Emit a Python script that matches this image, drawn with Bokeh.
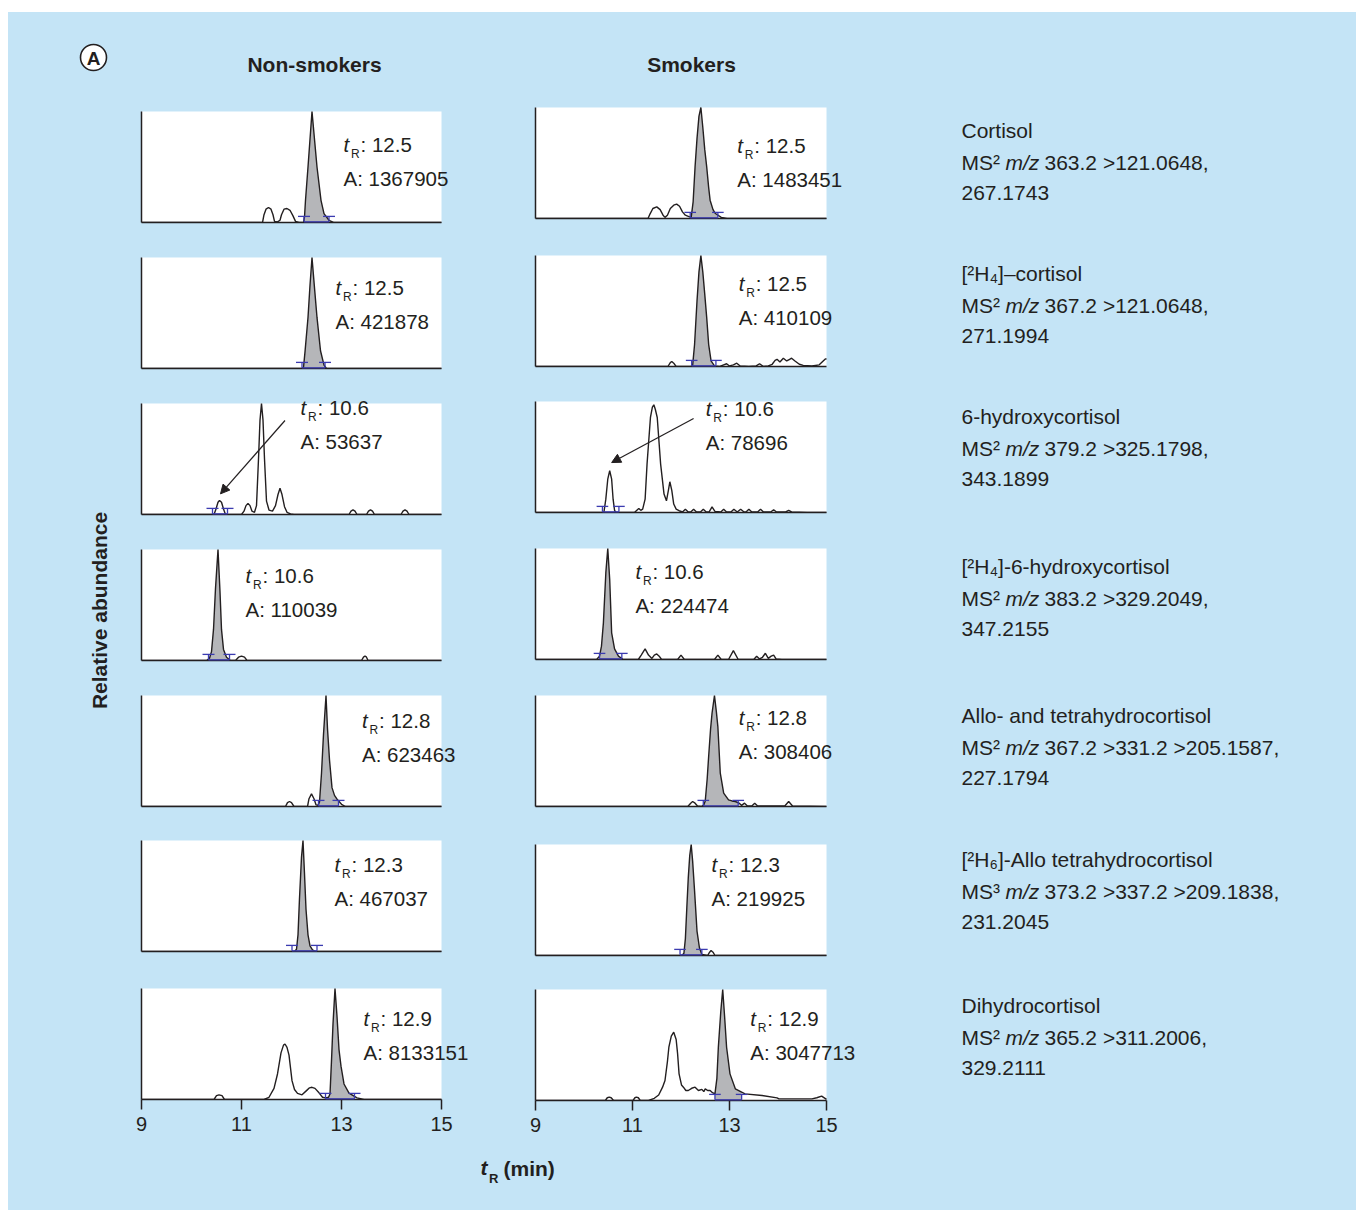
import math
import numpy as np
from bokeh.plotting import figure
from bokeh.models import Range1d, Label, Arrow, NormalHead, FixedTicker, Spacer, BoxAnnotation
from bokeh.layouts import row, column
from bokeh.embed import file_html
from bokeh.resources import INLINE
from bokeh.core.properties import value

# ---------------------------------------------------------------- data
# chromatogram traces: (retention time [min], relative abundance [%])
NS_CORTISOL = [(9.0,0),(11.42,0),(11.45,7),(11.49,12),(11.54,13.5),(11.59,12),(11.63,7),(11.66,1),(11.72,0.5),(11.77,2),(11.80,7),(11.85,12),(11.91,12.6),(11.97,11),(12.03,6),(12.08,1),(12.15,0),(12.24,0),(12.26,5),(12.28,20),(12.33,50),(12.37,75),(12.41,100),(12.45,80),(12.51,50),(12.59,20),(12.65,8),(12.75,2),(12.84,0),(15.0,0)]
NS_D4_CORTISOL = [(9.0,0),(12.20,0),(12.24,1),(12.27,15),(12.33,46),(12.37,75),(12.41,100),(12.45,78),(12.51,46),(12.58,16),(12.65,3),(12.70,0),(15.0,0)]
NS_6OH = [(9.0,0),(10.45,0),(10.49,5),(10.53,11),(10.56,12.6),(10.60,11),(10.64,5),(10.68,0),(11.00,0),(11.05,3),(11.09,8),(11.13,10),(11.17,8),(11.21,3),(11.26,2),(11.30,8),(11.34,50),(11.37,85),(11.40,100),(11.43,85),(11.46,50),(11.50,12),(11.55,4),(11.62,3),(11.68,8),(11.73,18),(11.77,23.7),(11.81,18),(11.86,7),(11.91,2),(11.98,0.5),(12.05,0),(13.15,0),(13.19,3),(13.23,4.2),(13.27,3),(13.31,0),(13.50,0),(13.54,3),(13.58,4.2),(13.62,3),(13.66,0),(14.19,0),(14.23,3),(14.27,4.2),(14.31,3),(14.35,0),(15.0,0)]
NS_D4_6OH = [(9.0,0),(10.30,0),(10.36,2),(10.40,8),(10.44,28),(10.48,65),(10.53,100),(10.57,62),(10.60,28),(10.64,10),(10.70,3),(10.78,0),(10.88,0),(10.94,3),(11.00,4),(11.06,3),(11.11,0),(13.40,0),(13.44,3),(13.47,4),(13.50,3),(13.53,0),(15.0,0)]
NS_THF = [(9.0,0),(11.88,0),(11.92,3.5),(11.96,4.5),(12.00,3.5),(12.05,0),(12.32,0),(12.35,7),(12.40,11.4),(12.45,7),(12.49,1.5),(12.53,1),(12.56,4),(12.60,30),(12.64,65),(12.69,100),(12.72,70),(12.76,42),(12.81,17),(12.86,10),(12.92,6),(13.00,2),(13.08,0),(15.0,0)]
NS_D6_THF = [(9.0,0),(12.06,0),(12.10,2),(12.13,15),(12.16,48),(12.20,85),(12.23,100),(12.26,70),(12.29,38),(12.33,15),(12.37,5),(12.42,1.5),(12.48,0),(15.0,0)]
NS_DHF = [(9.0,0),(10.45,0),(10.50,3.5),(10.55,4.2),(10.61,3.5),(10.66,0),(11.45,0),(11.55,2),(11.65,10),(11.72,23),(11.79,42),(11.84,49),(11.87,50),(11.91,47),(11.95,40),(12.01,17),(12.06,9),(12.12,5.5),(12.21,4.2),(12.30,8),(12.36,10.5),(12.41,11),(12.47,10),(12.55,6),(12.62,2),(12.68,1.5),(12.74,2),(12.77,5),(12.80,35),(12.83,68),(12.87,100),(12.91,75),(12.95,45),(12.99,30),(13.05,14),(13.15,5.7),(13.31,1.5),(13.45,0),(15.0,0)]

S_CORTISOL = [(9.0,0),(11.32,0),(11.36,4),(11.42,9),(11.50,10.5),(11.57,8),(11.63,3),(11.67,1),(11.72,3),(11.78,9),(11.85,12),(11.91,13),(11.97,11),(12.03,6),(12.09,3),(12.15,2),(12.21,1),(12.25,15),(12.29,46.5),(12.33,72),(12.37,92),(12.41,100),(12.45,82),(12.49,62),(12.53,46.5),(12.57,28),(12.60,16.5),(12.66,8),(12.71,4.5),(12.83,1),(12.95,0),(15.0,0)]
S_D4_CORTISOL = [(9.0,0),(11.73,0),(11.78,3.5),(11.81,4.5),(11.85,3),(11.90,0),(12.20,0),(12.24,1),(12.28,20),(12.33,59),(12.37,85),(12.41,100),(12.45,85),(12.49,65),(12.53,44),(12.57,20),(12.62,5),(12.69,0.5),(12.80,0),(12.88,1.5),(12.94,2.5),(13.00,0.5),(13.08,1.5),(13.15,3),(13.22,0.5),(13.40,0),(13.55,0.5),(13.62,2.5),(13.70,0),(13.80,0.5),(13.88,2),(13.94,5.5),(13.98,6.5),(14.04,4),(14.11,7.5),(14.18,5),(14.24,6.5),(14.28,7.5),(14.35,5),(14.44,2),(14.52,1),(14.70,0.5),(14.85,1.5),(14.97,6.6),(15.0,7)]
S_6OH = [(9.0,0),(10.41,0),(10.45,12),(10.49,30),(10.53,37.6),(10.57,30),(10.60,12),(10.63,2),(10.66,0),(11.04,0),(11.09,2),(11.13,3.6),(11.17,2),(11.21,3),(11.26,12),(11.30,43.6),(11.37,85.6),(11.41,95),(11.44,97),(11.47,93),(11.51,85.6),(11.58,43.6),(11.65,16.6),(11.70,10.5),(11.74,20),(11.77,27.7),(11.81,20),(11.85,7.6),(11.90,3),(11.96,1.6),(12.03,0.5),(12.09,3),(12.15,0.5),(12.20,0.5),(12.26,3),(12.32,0.5),(12.40,0.5),(12.46,3),(12.52,0.5),(12.58,0.5),(12.64,5),(12.70,1),(12.82,0.5),(12.88,3),(12.94,0.5),(13.03,0.5),(13.09,3),(13.16,0.5),(13.23,3),(13.30,0.5),(13.34,0.5),(13.40,3),(13.46,0.5),(13.58,0.5),(13.64,3),(13.70,0.5),(13.85,0.5),(13.91,2.5),(13.97,0.5),(14.16,0.5),(14.22,2),(14.28,0.5),(14.6,0),(15.0,0)]
S_D4_6OH = [(9.0,0),(10.26,0),(10.32,3),(10.36,12),(10.40,33),(10.45,78),(10.49,100),(10.53,72),(10.57,24),(10.63,9.5),(10.71,3),(10.81,0),(11.12,0),(11.18,4),(11.26,9.6),(11.33,4),(11.40,1),(11.45,4),(11.50,5),(11.55,3),(11.60,0),(11.93,0),(12.00,4),(12.07,0),(12.69,0),(12.76,4),(12.83,0),(12.98,0),(13.08,8),(13.18,0),(13.50,0),(13.56,3),(13.62,0.5),(13.68,2),(13.74,5.6),(13.80,1),(13.86,3),(13.91,4),(13.96,0.5),(14.08,0),(15.0,0)]
S_THF = [(9.0,0),(12.14,0),(12.20,3),(12.24,4.5),(12.29,3),(12.34,0.5),(12.42,0),(12.47,1.5),(12.50,5),(12.54,25),(12.57,45),(12.61,70),(12.64,84),(12.69,100),(12.73,85),(12.76,72),(12.81,30),(12.88,12),(12.98,6),(13.05,5),(13.12,4.5),(13.20,3),(13.25,1),(13.31,3),(13.37,0.5),(13.46,0.5),(13.52,3),(13.58,0.5),(14.14,0.5),(14.22,4.5),(14.30,0.5),(15.0,0)]
S_D6_THF = [(9.0,0),(12.02,0),(12.06,2),(12.09,15),(12.12,43),(12.15,70),(12.18,90),(12.21,100),(12.24,85),(12.28,58),(12.33,22),(12.38,7),(12.43,1),(12.55,0),(12.59,3),(12.62,4.5),(12.66,3),(12.70,0),(15.0,0)]
S_DHF = [(9.0,0),(10.44,0),(10.48,2.5),(10.52,3),(10.56,2.5),(10.61,0),(11.01,0),(11.05,2.5),(11.08,3),(11.12,2.5),(11.16,0),(11.33,0),(11.45,2),(11.54,5),(11.62,12),(11.67,18),(11.72,35),(11.75,48),(11.80,58),(11.85,61.5),(11.90,55),(11.93,42),(11.96,24),(12.01,14),(12.05,12),(12.10,9),(12.15,9),(12.22,11),(12.29,12),(12.36,9),(12.43,10),(12.47,8),(12.50,10.5),(12.55,9),(12.60,9),(12.65,7),(12.70,6),(12.74,20),(12.77,48),(12.82,80),(12.86,100),(12.90,75),(12.94,48),(13.01,24),(13.12,10.5),(13.32,6),(13.67,4.5),(13.98,2.4),(14.02,1.5),(14.49,1.5),(14.70,1.5),(14.80,2.5),(14.90,4),(15.0,1)]

NS_TRACES = [NS_CORTISOL, NS_D4_CORTISOL, NS_6OH, NS_D4_6OH, NS_THF, NS_D6_THF, NS_DHF]
S_TRACES = [S_CORTISOL, S_D4_CORTISOL, S_6OH, S_D4_6OH, S_THF, S_D6_THF, S_DHF]

# retention times and peak areas
TR_NS = ["12.5", "12.5", "10.6", "10.6", "12.8", "12.3", "12.9"]
AREA_NS = [1367905, 421878, 53637, 110039, 623463, 467037, 8133151]
TR_S = ["12.5", "12.5", "10.6", "10.6", "12.8", "12.3", "12.9"]
AREA_S = [1483451, 410109, 78696, 224474, 308406, 219925, 3047713]

# integration limits (min)
INT_NS = [(12.25, 12.75), (12.21, 12.67), (10.42, 10.72), (10.34, 10.76), (12.54, 12.94), (12.01, 12.51), (12.68, 13.26)]
INT_S = [(12.19, 12.76), (12.22, 12.72), (10.38, 10.72), (10.32, 10.78), (12.46, 13.18), (11.98, 12.43), (12.70, 13.25)]
FILLED = [True, True, False, True, True, True, True]

X_TICKS = [9, 11, 13, 15]
X_MIN, X_MAX = 9, 15
Y_MAX = 100

COMPOUNDS = ["Cortisol", "[²H₄]–cortisol", "6-hydroxycortisol", "[²H₄]-6-hydroxycortisol",
             "Allo- and tetrahydrocortisol", "[²H₆]-Allo tetrahydrocortisol", "Dihydrocortisol"]
MS_ORDER = ["MS²", "MS²", "MS²", "MS²", "MS²", "MS³", "MS²"]
MS_TRANSITIONS = ["363.2 >121.0648,", "367.2 >121.0648,", "379.2 >325.1798,", "383.2 >329.2049,",
                  "367.2 >331.2 >205.1587,", "373.2 >337.2 >209.1838,", "365.2 >311.2006,"]
MS_LAST = ["267.1743", "271.1994", "343.1899", "347.2155", "227.1794", "231.2045", "329.2111"]

# ---------------------------------------------------------------- style / layout
BG = "#c4e4f6"
INK = "#231f20"
GRAY = "#b5b6b9"
BLUE = "#3b3bb0"
FONT = "Liberation Sans"
FRAME_H = 111

LEFT_TB = [(11, 18), (17, 18), (17, 18), (17, 18), (17, 18), (16, 19), (18, 41)]
RIGHT_TB = [(7, 22), (15, 20), (15, 20), (16, 19), (17, 18), (20, 15), (19, 40)]
LAB_NS = [(13.04, 70.3), (12.88, 73.2), (12.18, 96.4), (11.08, 76.6), (13.41, 77.5), (12.86, 78.4), (13.44, 73.0)]
LAB_S = [(13.16, 65.8), (13.19, 74.8), (12.51, 93.7), (11.06, 79.3), (13.19, 80.2), (12.63, 82.0), (13.43, 73.9)]
ARROW_NS = (11.87, 84.7, 10.58, 18.6)
ARROW_S = (12.26, 84.7, 10.57, 45.0)


def style_axis(ax, ticks, labels, bounds):
    ax.bounds = bounds
    ax.axis_line_color = INK
    ax.axis_line_width = 1.5
    ax.minor_tick_line_color = None
    ax.ticker = FixedTicker(ticks=ticks, minor_ticks=[])
    if labels:
        ax.major_tick_out = 10
        ax.major_tick_in = 0
        ax.major_tick_line_color = INK
        ax.major_tick_line_width = 1.5
        ax.major_label_text_font = FONT
        ax.major_label_text_font_size = "20px"
        ax.major_label_text_color = INK
        ax.major_label_standoff = 7
    else:
        ax.major_tick_out = 0
        ax.major_tick_in = 0
        ax.major_tick_line_color = None
        ax.major_label_text_font_size = "0px"
        ax.major_label_standoff = 0


def make_panel(points, lims, tr, area, filled, lab, fw, bl, br, bt, bb, bottom, arrow=None):
    t = np.array([q[0] for q in points], dtype=float)
    a = np.array([q[1] for q in points], dtype=float)
    # the frame also covers the right and top margins so the labels are not clipped;
    # the white plotting box itself is X_MIN..X_MAX x 0..Y_MAX
    x_end = X_MIN + (X_MAX - X_MIN) * (fw + br) / fw
    y_end = Y_MAX * (FRAME_H + bt) / FRAME_H
    p = figure(title=None, frame_width=fw + br, frame_height=FRAME_H + bt,
               min_border_left=bl, min_border_right=0, min_border_top=0, min_border_bottom=bb,
               x_range=Range1d(X_MIN, x_end), y_range=Range1d(0, y_end),
               output_backend="svg", toolbar_location=None,
               background_fill_color=BG, border_fill_color=BG, outline_line_color=None)
    p.grid.visible = False
    p.add_layout(BoxAnnotation(left=X_MIN, right=X_MAX, bottom=0, top=Y_MAX, fill_color="white",
                               fill_alpha=1, line_color=None, level="underlay"))
    style_axis(p.yaxis[0], [], False, (0, Y_MAX))
    style_axis(p.xaxis[0], X_TICKS if bottom else [], bottom, (X_MIN, X_MAX))

    lo, hi = lims
    if filled:
        inside = (t > lo) & (t < hi)
        ft = np.concatenate([[lo], t[inside], [hi]])
        fa = np.concatenate([[np.interp(lo, t, a)], a[inside], [np.interp(hi, t, a)]])
        p.varea(x=ft, y1=0, y2=fa, fill_color=GRAY)
    p.line(t, a, line_color=INK, line_width=1.4)

    hw, th = 0.12, 5.5
    p.segment(x0=[lo, lo - hw, hi - hw, lo, hi], y0=[0.6, th, th, 0.6, 0.6],
              x1=[hi, lo + hw, hi + hw, lo, hi], y1=[0.6, th, th, th, th],
              line_color=BLUE, line_width=1.3, level="overlay")

    lx, ly = lab
    common = dict(text_font=FONT, text_color=INK, text_baseline="middle", text_align="left")
    p.add_layout(Label(x=lx, y=ly, text="t", text_font_size="20.5px", text_font_style="italic", **common))
    p.add_layout(Label(x=lx, y=ly - 9, x_offset=7.5, text="R", text_font_size="12px", **common))
    p.add_layout(Label(x=lx, y=ly, x_offset=17, text=": " + tr, text_font_size="20.5px", **common))
    p.add_layout(Label(x=lx, y=ly - 30.6, text="A: " + str(area), text_font_size="20.5px", **common))

    if arrow is not None:
        xs, ys, xe, ye = arrow
        p.add_layout(Arrow(end=NormalHead(size=9, fill_color=INK, line_color=INK, line_width=1),
                           x_start=xs, y_start=ys, x_end=xe, y_end=ye,
                           line_color=INK, line_width=1.2))
    return p


def text_fig(w, h, flip=True):
    f = figure(title=None, frame_width=w, frame_height=h, min_border=0,
               x_range=Range1d(0, w), y_range=Range1d(h, 0) if flip else Range1d(0, h),
               output_backend="svg", toolbar_location=None,
               background_fill_color=BG, border_fill_color=BG, outline_line_color=None)
    f.axis.visible = False
    f.grid.visible = False
    return f


left_figs, right_figs = [], []
for i in range(7):
    bt, bb = LEFT_TB[i]
    left_figs.append(make_panel(NS_TRACES[i], INT_NS[i], TR_NS[i], AREA_NS[i], FILLED[i], LAB_NS[i],
                                300, 21, 39, bt, bb, i == 6, ARROW_NS if i == 2 else None))
    bt, bb = RIGHT_TB[i]
    right_figs.append(make_panel(S_TRACES[i], INT_S[i], TR_S[i], AREA_S[i], FILLED[i], LAB_S[i],
                                 291, 55, 74, bt, bb, i == 6, ARROW_S if i == 2 else None))

W_TOTAL = 1348

# header
hdr = text_fig(W_TOTAL, 88)
hdr.scatter([85], [45], size=26, marker="circle", fill_color="white", line_color=INK, line_width=1.6)
hdr.text([85], [46], text=["A"], text_align="center", text_baseline="middle", text_font=value(FONT),
         text_font_style="bold", text_font_size="19px", text_color=INK)
hdr.text([306, 683], [52, 52], text=["Non-smokers", "Smokers"], text_align="center", text_baseline="middle",
         text_font=value(FONT), text_font_style="bold", text_font_size="21px", text_color=INK)

# y label
ylab = text_fig(112, 1040, flip=False)
ylab.text([91], [530], text=["Relative abundance"], angle=math.pi / 2, text_align="center",
          text_baseline="middle", text_font=value(FONT), text_font_style="bold",
          text_font_size="21px", text_color=INK)

# compound annotations
ANN_Y = [30, 173, 316, 466, 615, 759, 905]
annot = text_fig(W_TOTAL - 112 - 360 - 420, 1040)
tx = dict(text_baseline="middle", text_align="left", text_font=value(FONT), text_font_size="21px", text_color=INK)
annot.text([61] * 7, ANN_Y, text=COMPOUNDS, **tx)
annot.text([61] * 7, [y + 31.5 for y in ANN_Y], text=MS_ORDER, **tx)
annot.text([105] * 7, [y + 31.5 for y in ANN_Y], text=["m/z"] * 7, text_font_style="italic", **tx)
annot.text([144] * 7, [y + 31.5 for y in ANN_Y], text=MS_TRANSITIONS, **tx)
annot.text([61] * 7, [y + 62 for y in ANN_Y], text=MS_LAST, **tx)

# x label
xlab = text_fig(W_TOTAL, 70)
xb = dict(text_baseline="middle", text_align="left", text_font=value(FONT), text_color=INK)
xlab.text([472], [27], text=["t"], text_font_style="bold italic", text_font_size="21px", **xb)
xlab.text([480.5], [38], text=["R"], text_font_style="bold", text_font_size="13px", **xb)
xlab.text([495], [28], text=["(min)"], text_font_style="bold", text_font_size="21px", **xb)

blue = column(hdr,
              row(ylab, column(*left_figs), column(*right_figs), annot),
              xlab, styles={"background-color": BG})
layout = column(Spacer(width=W_TOTAL + 8, height=12), row(Spacer(width=8, height=10), blue))

open("out.html", "w").write(file_html(layout, INLINE))
